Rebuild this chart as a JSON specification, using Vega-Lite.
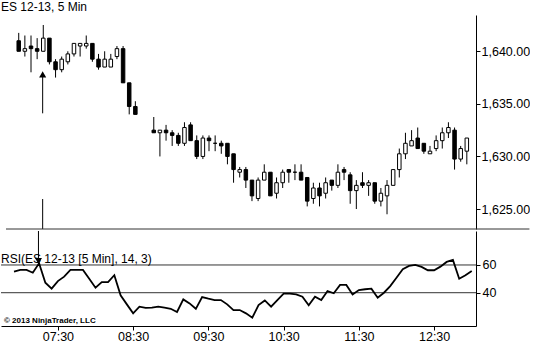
{
  "$schema": "https://vega.github.io/schema/vega-lite/v6.json",
  "padding": {"left": 0, "top": 0, "right": 0, "bottom": 0},
  "spacing": 0,
  "background": "white",
  "config": {
    "view": {"stroke": null},
    "font": "Liberation Sans",
    "axis": {"domainColor": "black", "tickColor": "black", "labelColor": "black", "labelFont": "Liberation Sans", "labelFontSize": 12.5, "tickSize": 4, "grid": false, "domainWidth": 1, "tickWidth": 1}
  },
  "datasets": {
    "candles": [
      {"t": "2013-09-10T06:55", "o": 1641.0, "h": 1641.75, "l": 1640.0, "c": 1640.0},
      {"t": "2013-09-10T07:00", "o": 1640.0, "h": 1641.5, "l": 1639.5, "c": 1640.25},
      {"t": "2013-09-10T07:05", "o": 1640.5, "h": 1641.5, "l": 1638.0, "c": 1640.25},
      {"t": "2013-09-10T07:10", "o": 1640.25, "h": 1641.25, "l": 1639.25, "c": 1640.0},
      {"t": "2013-09-10T07:15", "o": 1640.0, "h": 1642.5, "l": 1640.0, "c": 1641.25},
      {"t": "2013-09-10T07:20", "o": 1641.25, "h": 1641.25, "l": 1638.75, "c": 1639.0},
      {"t": "2013-09-10T07:25", "o": 1639.0, "h": 1639.25, "l": 1637.5, "c": 1638.25},
      {"t": "2013-09-10T07:30", "o": 1638.25, "h": 1639.5, "l": 1638.0, "c": 1639.25},
      {"t": "2013-09-10T07:35", "o": 1639.0, "h": 1640.0, "l": 1638.75, "c": 1639.75},
      {"t": "2013-09-10T07:40", "o": 1639.75, "h": 1640.75, "l": 1639.5, "c": 1640.75},
      {"t": "2013-09-10T07:45", "o": 1640.5, "h": 1640.75, "l": 1639.5, "c": 1640.75},
      {"t": "2013-09-10T07:50", "o": 1640.5, "h": 1641.5, "l": 1640.25, "c": 1640.75},
      {"t": "2013-09-10T07:55", "o": 1640.75, "h": 1640.75, "l": 1639.0, "c": 1639.25},
      {"t": "2013-09-10T08:00", "o": 1639.25, "h": 1639.75, "l": 1638.25, "c": 1638.5},
      {"t": "2013-09-10T08:05", "o": 1638.5, "h": 1640.0, "l": 1638.5, "c": 1639.25},
      {"t": "2013-09-10T08:10", "o": 1638.5, "h": 1639.75, "l": 1638.5, "c": 1639.25},
      {"t": "2013-09-10T08:15", "o": 1639.5, "h": 1640.5, "l": 1639.25, "c": 1640.25},
      {"t": "2013-09-10T08:20", "o": 1640.25, "h": 1640.5, "l": 1637.0, "c": 1637.0},
      {"t": "2013-09-10T08:25", "o": 1637.0, "h": 1637.0, "l": 1634.0, "c": 1634.75},
      {"t": "2013-09-10T08:30", "o": 1634.75, "h": 1635.25, "l": 1634.0, "c": 1634.0},
      {"t": "2013-09-10T08:45", "o": 1632.5, "h": 1633.75, "l": 1632.25, "c": 1632.25},
      {"t": "2013-09-10T08:50", "o": 1632.25, "h": 1632.5, "l": 1630.0, "c": 1632.5},
      {"t": "2013-09-10T08:55", "o": 1632.5, "h": 1633.0, "l": 1631.5, "c": 1632.25},
      {"t": "2013-09-10T09:00", "o": 1632.25, "h": 1632.5, "l": 1631.0, "c": 1632.0},
      {"t": "2013-09-10T09:05", "o": 1632.0, "h": 1632.25, "l": 1631.0, "c": 1631.25},
      {"t": "2013-09-10T09:10", "o": 1631.25, "h": 1633.25, "l": 1631.0, "c": 1632.75},
      {"t": "2013-09-10T09:15", "o": 1633.0, "h": 1633.25, "l": 1631.5, "c": 1631.5},
      {"t": "2013-09-10T09:20", "o": 1631.5, "h": 1632.0, "l": 1629.75, "c": 1630.0},
      {"t": "2013-09-10T09:25", "o": 1630.0, "h": 1632.0, "l": 1629.75, "c": 1631.75},
      {"t": "2013-09-10T09:30", "o": 1631.75, "h": 1632.0, "l": 1630.5, "c": 1631.5},
      {"t": "2013-09-10T09:35", "o": 1631.25, "h": 1632.0, "l": 1630.5, "c": 1631.25},
      {"t": "2013-09-10T09:40", "o": 1631.25, "h": 1631.5, "l": 1630.25, "c": 1631.0},
      {"t": "2013-09-10T09:45", "o": 1631.25, "h": 1631.25, "l": 1629.25, "c": 1630.0},
      {"t": "2013-09-10T09:50", "o": 1630.25, "h": 1630.25, "l": 1627.5, "c": 1628.75},
      {"t": "2013-09-10T09:55", "o": 1628.5, "h": 1629.0, "l": 1628.0, "c": 1628.75},
      {"t": "2013-09-10T10:00", "o": 1628.75, "h": 1629.0, "l": 1627.0, "c": 1627.75},
      {"t": "2013-09-10T10:05", "o": 1627.75, "h": 1627.75, "l": 1625.75, "c": 1626.25},
      {"t": "2013-09-10T10:10", "o": 1626.0, "h": 1628.0, "l": 1625.75, "c": 1627.75},
      {"t": "2013-09-10T10:15", "o": 1627.75, "h": 1629.25, "l": 1627.75, "c": 1628.5},
      {"t": "2013-09-10T10:20", "o": 1628.5, "h": 1628.5, "l": 1626.25, "c": 1626.25},
      {"t": "2013-09-10T10:25", "o": 1626.5, "h": 1628.0, "l": 1626.0, "c": 1627.5},
      {"t": "2013-09-10T10:30", "o": 1627.5, "h": 1628.75, "l": 1627.0, "c": 1628.5},
      {"t": "2013-09-10T10:35", "o": 1628.75, "h": 1628.75, "l": 1627.5, "c": 1628.5},
      {"t": "2013-09-10T10:40", "o": 1628.5, "h": 1629.25, "l": 1627.75, "c": 1628.5},
      {"t": "2013-09-10T10:45", "o": 1628.5, "h": 1629.25, "l": 1627.75, "c": 1627.75},
      {"t": "2013-09-10T10:50", "o": 1628.0, "h": 1628.0, "l": 1625.25, "c": 1625.75},
      {"t": "2013-09-10T10:55", "o": 1626.0, "h": 1627.5, "l": 1625.5, "c": 1627.0},
      {"t": "2013-09-10T11:00", "o": 1627.0, "h": 1627.5, "l": 1625.25, "c": 1626.25},
      {"t": "2013-09-10T11:05", "o": 1626.5, "h": 1628.0, "l": 1626.0, "c": 1627.5},
      {"t": "2013-09-10T11:10", "o": 1627.75, "h": 1627.75, "l": 1626.75, "c": 1627.25},
      {"t": "2013-09-10T11:15", "o": 1627.25, "h": 1629.25, "l": 1627.0, "c": 1628.5},
      {"t": "2013-09-10T11:20", "o": 1628.75, "h": 1629.0, "l": 1627.75, "c": 1628.5},
      {"t": "2013-09-10T11:25", "o": 1628.25, "h": 1628.5, "l": 1625.5, "c": 1626.75},
      {"t": "2013-09-10T11:30", "o": 1626.75, "h": 1627.75, "l": 1625.0, "c": 1627.25},
      {"t": "2013-09-10T11:35", "o": 1627.5, "h": 1628.5, "l": 1627.0, "c": 1627.25},
      {"t": "2013-09-10T11:40", "o": 1627.25, "h": 1627.75, "l": 1626.25, "c": 1627.5},
      {"t": "2013-09-10T11:45", "o": 1627.5, "h": 1627.5, "l": 1625.5, "c": 1625.75},
      {"t": "2013-09-10T11:50", "o": 1625.75, "h": 1627.0, "l": 1625.25, "c": 1626.5},
      {"t": "2013-09-10T11:55", "o": 1626.25, "h": 1627.75, "l": 1624.5, "c": 1627.25},
      {"t": "2013-09-10T12:00", "o": 1627.25, "h": 1628.75, "l": 1627.25, "c": 1628.75},
      {"t": "2013-09-10T12:05", "o": 1628.75, "h": 1630.75, "l": 1628.0, "c": 1630.25},
      {"t": "2013-09-10T12:10", "o": 1630.25, "h": 1632.25, "l": 1629.75, "c": 1631.25},
      {"t": "2013-09-10T12:15", "o": 1631.0, "h": 1632.5, "l": 1631.0, "c": 1631.5},
      {"t": "2013-09-10T12:20", "o": 1631.75, "h": 1632.75, "l": 1630.75, "c": 1630.75},
      {"t": "2013-09-10T12:25", "o": 1631.25, "h": 1631.25, "l": 1630.25, "c": 1630.5},
      {"t": "2013-09-10T12:30", "o": 1630.25, "h": 1631.0, "l": 1630.25, "c": 1630.5},
      {"t": "2013-09-10T12:35", "o": 1630.75, "h": 1632.0, "l": 1630.5, "c": 1631.5},
      {"t": "2013-09-10T12:40", "o": 1631.5, "h": 1632.75, "l": 1630.75, "c": 1632.25},
      {"t": "2013-09-10T12:45", "o": 1632.25, "h": 1633.25, "l": 1631.75, "c": 1632.75},
      {"t": "2013-09-10T12:50", "o": 1632.5, "h": 1632.75, "l": 1628.75, "c": 1629.75},
      {"t": "2013-09-10T12:55", "o": 1629.75, "h": 1631.0, "l": 1629.5, "c": 1630.75},
      {"t": "2013-09-10T13:00", "o": 1630.5, "h": 1631.75, "l": 1629.25, "c": 1631.75}
    ],
    "rsi": [
      {"t": "2013-09-10T06:55", "v": 55.2}, {"t": "2013-09-10T07:00", "v": 56.4}, {"t": "2013-09-10T07:05", "v": 56.4},
      {"t": "2013-09-10T07:10", "v": 54.4}, {"t": "2013-09-10T07:15", "v": 61.2}, {"t": "2013-09-10T07:20", "v": 47.2},
      {"t": "2013-09-10T07:25", "v": 42.9}, {"t": "2013-09-10T07:30", "v": 48.4}, {"t": "2013-09-10T07:35", "v": 51.6},
      {"t": "2013-09-10T07:40", "v": 56.4}, {"t": "2013-09-10T07:45", "v": 56.4}, {"t": "2013-09-10T07:50", "v": 56.4},
      {"t": "2013-09-10T07:55", "v": 50.1}, {"t": "2013-09-10T08:00", "v": 43.6}, {"t": "2013-09-10T08:05", "v": 47.7},
      {"t": "2013-09-10T08:10", "v": 47.7}, {"t": "2013-09-10T08:15", "v": 52.6}, {"t": "2013-09-10T08:20", "v": 38.1},
      {"t": "2013-09-10T08:25", "v": 31.6}, {"t": "2013-09-10T08:30", "v": 25.1}, {"t": "2013-09-10T08:35", "v": 29.9},
      {"t": "2013-09-10T08:40", "v": 29.0}, {"t": "2013-09-10T08:45", "v": 29.2}, {"t": "2013-09-10T08:50", "v": 29.9},
      {"t": "2013-09-10T08:55", "v": 29.2}, {"t": "2013-09-10T09:00", "v": 28.4}, {"t": "2013-09-10T09:05", "v": 26.1},
      {"t": "2013-09-10T09:10", "v": 35.2}, {"t": "2013-09-10T09:15", "v": 32.3}, {"t": "2013-09-10T09:20", "v": 28.4},
      {"t": "2013-09-10T09:25", "v": 36.9}, {"t": "2013-09-10T09:30", "v": 35.7}, {"t": "2013-09-10T09:35", "v": 34.7},
      {"t": "2013-09-10T09:40", "v": 34.7}, {"t": "2013-09-10T09:45", "v": 31.6}, {"t": "2013-09-10T09:50", "v": 27.5},
      {"t": "2013-09-10T09:55", "v": 27.5}, {"t": "2013-09-10T10:00", "v": 25.1}, {"t": "2013-09-10T10:05", "v": 22.0},
      {"t": "2013-09-10T10:10", "v": 31.1}, {"t": "2013-09-10T10:15", "v": 34.4}, {"t": "2013-09-10T10:20", "v": 29.9},
      {"t": "2013-09-10T10:25", "v": 34.7}, {"t": "2013-09-10T10:30", "v": 39.3}, {"t": "2013-09-10T10:35", "v": 39.3},
      {"t": "2013-09-10T10:40", "v": 38.8}, {"t": "2013-09-10T10:45", "v": 37.1}, {"t": "2013-09-10T10:50", "v": 30.9},
      {"t": "2013-09-10T10:55", "v": 37.1}, {"t": "2013-09-10T11:00", "v": 34.7}, {"t": "2013-09-10T11:05", "v": 41.2},
      {"t": "2013-09-10T11:10", "v": 39.6}, {"t": "2013-09-10T11:15", "v": 45.6}, {"t": "2013-09-10T11:20", "v": 45.6},
      {"t": "2013-09-10T11:25", "v": 38.8}, {"t": "2013-09-10T11:30", "v": 41.9}, {"t": "2013-09-10T11:35", "v": 42.5},
      {"t": "2013-09-10T11:40", "v": 42.9}, {"t": "2013-09-10T11:45", "v": 36.4}, {"t": "2013-09-10T11:50", "v": 40.0},
      {"t": "2013-09-10T11:55", "v": 44.8}, {"t": "2013-09-10T12:00", "v": 50.8}, {"t": "2013-09-10T12:05", "v": 56.9},
      {"t": "2013-09-10T12:10", "v": 59.3}, {"t": "2013-09-10T12:15", "v": 60.0}, {"t": "2013-09-10T12:20", "v": 58.6},
      {"t": "2013-09-10T12:25", "v": 56.2}, {"t": "2013-09-10T12:30", "v": 56.2}, {"t": "2013-09-10T12:35", "v": 58.8},
      {"t": "2013-09-10T12:40", "v": 62.2}, {"t": "2013-09-10T12:45", "v": 63.6}, {"t": "2013-09-10T12:50", "v": 50.1},
      {"t": "2013-09-10T12:55", "v": 52.6}, {"t": "2013-09-10T13:00", "v": 55.7}
    ]
  },
  "vconcat": [
    {
      "width": 475,
      "height": 214,
      "title": {"text": "ES 12-13, 5 Min", "anchor": "start", "frame": "group", "fontSize": 12, "fontWeight": "normal", "font": "Liberation Sans", "color": "black", "offset": 1.5},
      "layer": [
        {
          "data": {"name": "candles"},
          "mark": {"type": "rule", "color": "black", "strokeWidth": 1},
          "encoding": {
            "x": {"field": "t", "type": "temporal", "scale": {"domain": [{"year": 2013, "month": 9, "date": 10, "hours": 6, "minutes": 44, "seconds": 38}, {"year": 2013, "month": 9, "date": 10, "hours": 13, "minutes": 3, "seconds": 24}]}, "axis": null},
            "y": {"field": "l", "type": "quantitative", "scale": {"domain": [1623.1, 1643.45], "zero": false, "nice": false}, "axis": {"orient": "right", "values": [1625, 1630, 1635, 1640], "format": ",.2f", "title": null, "labelPadding": 1}},
            "y2": {"field": "h"}
          }
        },
        {
          "data": {"name": "candles"},
          "mark": {"type": "bar", "width": 3.5, "stroke": "black", "strokeWidth": 1},
          "encoding": {
            "x": {"field": "t", "type": "temporal"},
            "y": {"field": "o", "type": "quantitative"},
            "y2": {"field": "c"},
            "fill": {"condition": {"test": "datum.c >= datum.o", "value": "white"}, "value": "black"}
          }
        },
        {
          "data": {"values": [{"t": "2013-09-10T07:14:30", "a": 1634.1, "b": 1637.8}, {"t": "2013-09-10T07:14:30", "a": 1625.95, "b": 1623.1}]},
          "mark": {"type": "rule", "color": "black", "strokeWidth": 1},
          "encoding": {"x": {"field": "t", "type": "temporal"}, "y": {"field": "a", "type": "quantitative"}, "y2": {"field": "b"}}
        },
        {
          "data": {"values": [{"t": "2013-09-10T07:14:30", "p": 1637.8}]},
          "mark": {"type": "point", "shape": "triangle-up", "filled": true, "color": "black", "size": 50, "opacity": 1},
          "encoding": {"x": {"field": "t", "type": "temporal"}, "y": {"field": "p", "type": "quantitative"}}
        },
        {
          "data": {"values": [{"t0": "2013-09-10T06:44:38", "t1": "2013-09-10T13:51:00", "p": 1623.1}]},
          "mark": {"type": "rule", "color": "#333", "strokeWidth": 1, "clip": false},
          "encoding": {"x": {"field": "t0", "type": "temporal"}, "x2": {"field": "t1"}, "y": {"field": "p", "type": "quantitative"}}
        }
      ]
    },
    {
      "width": 475,
      "height": 95,
      "layer": [
        {
          "data": {"values": [{"v": 60}, {"v": 40}]},
          "mark": {"type": "rule", "color": "#333", "strokeWidth": 1},
          "encoding": {
            "y": {"field": "v", "type": "quantitative", "scale": {"domain": [16, 84.5], "zero": false, "nice": false}, "axis": {"orient": "right", "values": [40, 60], "title": null, "labelPadding": 2}}
          }
        },
        {
          "data": {"name": "rsi"},
          "mark": {"type": "line", "color": "black", "strokeWidth": 1.8},
          "encoding": {
            "x": {"field": "t", "type": "temporal", "scale": {"domain": [{"year": 2013, "month": 9, "date": 10, "hours": 6, "minutes": 44, "seconds": 38}, {"year": 2013, "month": 9, "date": 10, "hours": 13, "minutes": 3, "seconds": 24}]}, "axis": {"orient": "bottom", "title": null, "format": "%H:%M", "labelPadding": 0, "labelFlush": false, "values": [{"year": 2013, "month": 9, "date": 10, "hours": 7, "minutes": 30}, {"year": 2013, "month": 9, "date": 10, "hours": 8, "minutes": 30}, {"year": 2013, "month": 9, "date": 10, "hours": 9, "minutes": 30}, {"year": 2013, "month": 9, "date": 10, "hours": 10, "minutes": 30}, {"year": 2013, "month": 9, "date": 10, "hours": 11, "minutes": 30}, {"year": 2013, "month": 9, "date": 10, "hours": 12, "minutes": 30}]}},
            "y": {"field": "v", "type": "quantitative"}
          }
        },
        {
          "data": {"values": [{"t": "2013-09-10T07:14:30", "a": 84.5, "b": 63}]},
          "mark": {"type": "rule", "color": "black", "strokeWidth": 1},
          "encoding": {"x": {"field": "t", "type": "temporal"}, "y": {"field": "a", "type": "quantitative"}, "y2": {"field": "b"}}
        },
        {
          "data": {"values": [{"t": "2013-09-10T07:14:30", "p": 62.9}]},
          "mark": {"type": "point", "shape": "triangle-down", "filled": true, "color": "black", "size": 50, "opacity": 1},
          "encoding": {"x": {"field": "t", "type": "temporal"}, "y": {"field": "p", "type": "quantitative"}}
        },
        {
          "data": {"values": [{"t": "2013-09-10T06:44:38", "p": 61.7, "s": "RSI(ES 12-13 [5 Min], 14, 3)"}]},
          "mark": {"type": "text", "align": "left", "baseline": "alphabetic", "fontSize": 12, "font": "Liberation Sans", "color": "black"},
          "encoding": {"x": {"field": "t", "type": "temporal"}, "y": {"field": "p", "type": "quantitative"}, "text": {"field": "s"}}
        },
        {
          "data": {"values": [{"t": "2013-09-10T06:47:00", "p": 18.1, "s": "© 2013 NinjaTrader, LLC"}]},
          "mark": {"type": "text", "align": "left", "baseline": "alphabetic", "fontSize": 8, "fontWeight": "bold", "font": "Liberation Sans", "color": "black"},
          "encoding": {"x": {"field": "t", "type": "temporal"}, "y": {"field": "p", "type": "quantitative"}, "text": {"field": "s"}}
        }
      ]
    }
  ]
}
